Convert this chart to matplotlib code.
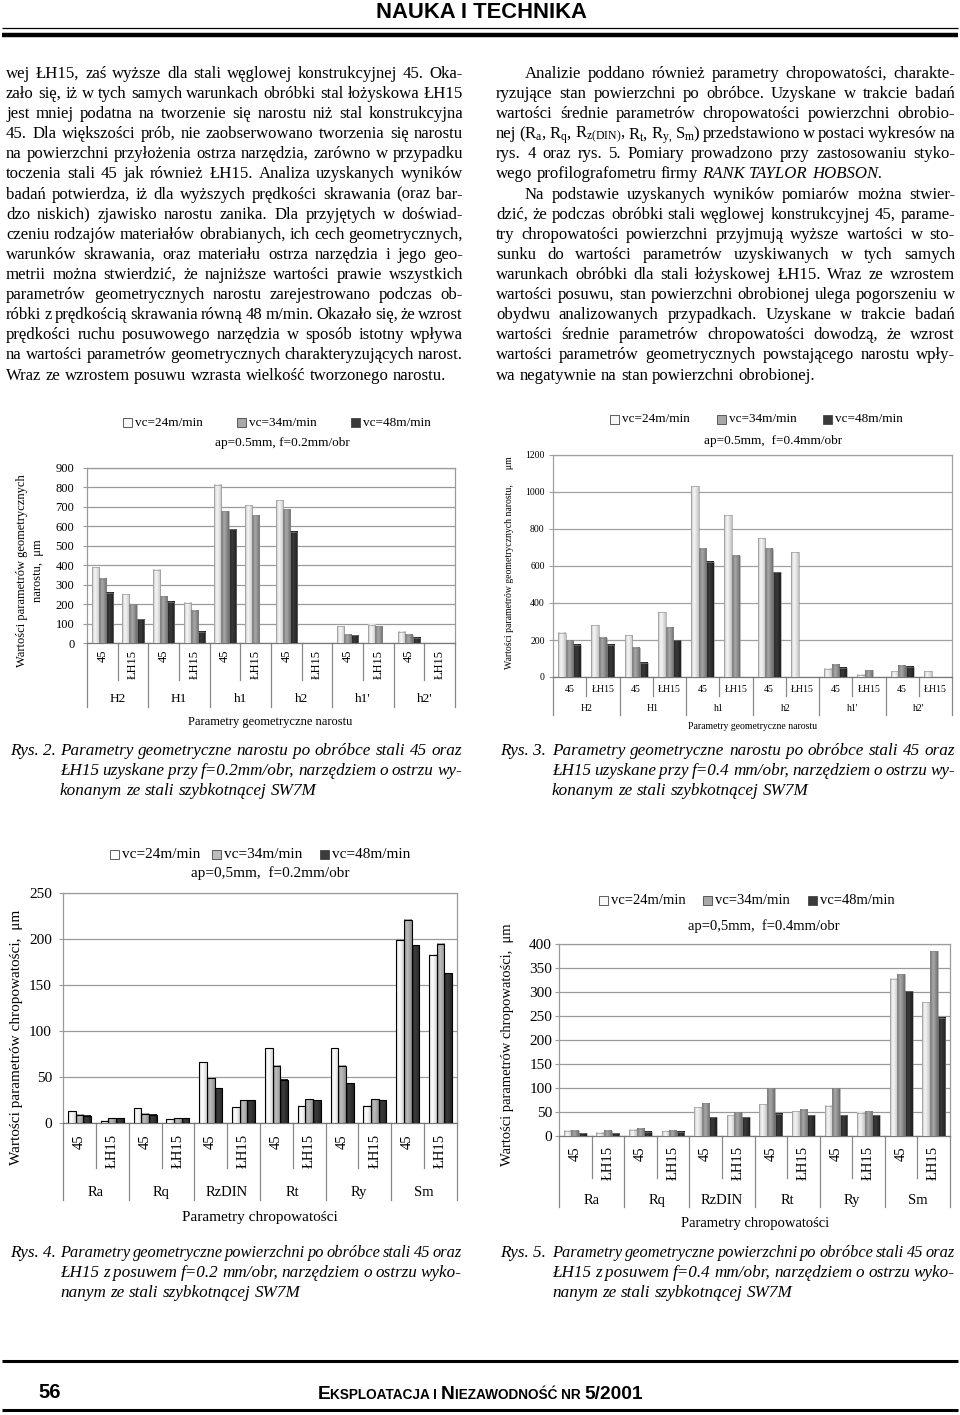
import numpy as np
import matplotlib
matplotlib.use('Agg')
import matplotlib.pyplot as plt
from matplotlib.patches import Rectangle
from matplotlib.lines import Line2D
from matplotlib.colors import to_rgb

# ---------------- data ----------------
series = ['vc=24m/min', 'vc=34m/min', 'vc=48m/min']
materials = ['45', 'ŁH15']
groups_geo = ['H2', 'H1', 'h1', 'h2', "h1'", "h2'"]
groups_rough = ['Ra', 'Rq', 'RzDIN', 'Rt', 'Ry', 'Sm']

# Rys. 2  (f=0.2 mm/obr) - geometric parameters of built-up edge, um
rys2_v24 = [389, 252, 377, 206, 813, 708, 734, 0, 86, 93, 57, 0]
rys2_v34 = [331, 200, 240, 166, 677, 658, 689, 0, 43, 86, 43, 0]
rys2_v48 = [259, 122, 213, 57, 585, 0, 573, 0, 39, 0, 27, 0]

# Rys. 3  (f=0.4 mm/obr)
rys3_v24 = [238, 281, 226, 350, 1030, 873, 751, 673, 45, 13, 31, 31]
rys3_v34 = [199, 211, 157, 269, 693, 655, 693, 0, 67, 36, 61, 0]
rys3_v48 = [175, 175, 76, 200, 622, 0, 567, 0, 49, 0, 56, 0]

# Rys. 4  (roughness, f=0.2 mm/obr)
rys4_v24 = [13, 2.5, 16, 4, 66, 17, 81.5, 19, 81.5, 19, 198.5, 183]
rys4_v34 = [9, 5, 10, 5, 49, 25, 62, 26, 62, 26, 221, 195]
rys4_v48 = [8, 5, 9, 5, 38, 25, 47, 25, 43, 25, 193, 163]

# Rys. 5  (roughness, f=0.4 mm/obr)
rys5_v24 = [11, 7, 13, 10, 60, 43, 66, 52, 63, 48, 328, 279]
rys5_v34 = [11, 11, 15, 11, 68, 50, 99, 55, 99, 52, 337, 385]
rys5_v48 = [6, 6, 9, 9, 39, 39, 46, 43, 43, 43, 302, 246]

left_lines = [
    "wej ŁH15, zaś wyższe dla stali węglowej konstrukcyjnej 45. Oka-",
    "zało się, iż w tych samych warunkach obróbki stal łożyskowa ŁH15",
    "jest mniej podatna na tworzenie się narostu niż stal konstrukcyjna",
    "45. Dla większości prób, nie zaobserwowano tworzenia się narostu",
    "na powierzchni przyłożenia ostrza narzędzia, zarówno w przypadku",
    "toczenia stali 45 jak również ŁH15. Analiza uzyskanych wyników",
    "badań potwierdza, iż dla wyższych prędkości skrawania (oraz bar-",
    "dzo niskich) zjawisko narostu zanika. Dla przyjętych w doświad-",
    "czeniu rodzajów materiałów obrabianych, ich cech geometrycznych,",
    "warunków skrawania, oraz materiału ostrza narzędzia i jego geo-",
    "metrii można stwierdzić, że najniższe wartości prawie wszystkich",
    "parametrów geometrycznych narostu zarejestrowano podczas ob-",
    "róbki z prędkością skrawania równą 48 m/min. Okazało się, że wzrost",
    "prędkości ruchu posuwowego narzędzia w sposób istotny wpływa",
    "na wartości parametrów geometrycznych charakteryzujących narost.",
    "Wraz ze wzrostem posuwu wzrasta wielkość tworzonego narostu.",
]
right_lines = [
    "Analizie poddano również parametry chropowatości, charakte-",
    "ryzujące stan powierzchni po obróbce. Uzyskane w trakcie badań",
    "wartości średnie parametrów chropowatości powierzchni obrobio-",
    "nej (R$_a$, R$_q$, R$_{z(DIN)}$, R$_t$, R$_{y,}$ S$_m$) przedstawiono w postaci wykresów na",
    "rys. 4 oraz rys. 5. Pomiary prowadzono przy zastosowaniu styko-",
    "wego profilografometru firmy §RANK §TAYLOR §HOBSON.",
    "Na podstawie uzyskanych wyników pomiarów można stwier-",
    "dzić, że podczas obróbki stali węglowej konstrukcyjnej 45, parame-",
    "try chropowatości powierzchni przyjmują wyższe wartości w sto-",
    "sunku do wartości parametrów uzyskiwanych w tych samych",
    "warunkach obróbki dla stali łożyskowej ŁH15. Wraz ze wzrostem",
    "wartości posuwu, stan powierzchni obrobionej ulega pogorszeniu w",
    "obydwu analizowanych przypadkach. Uzyskane w trakcie badań",
    "wartości średnie parametrów chropowatości dowodzą, że wzrost",
    "wartości parametrów geometrycznych powstającego narostu wpły-",
    "wa negatywnie na stan powierzchni obrobionej.",
]
cap2 = ["Parametry geometryczne narostu po obróbce stali 45 oraz",
        "ŁH15 uzyskane przy  f=0.2mm/obr, narzędziem o ostrzu wy-",
        "konanym ze stali szybkotnącej SW7M"]
cap3 = ["Parametry geometryczne narostu po obróbce stali 45 oraz",
        "ŁH15 uzyskane przy  f=0.4 mm/obr, narzędziem o ostrzu wy-",
        "konanym ze stali szybkotnącej SW7M"]
cap4 = ["Parametry geometryczne powierzchni po obróbce stali 45 oraz",
        "ŁH15 z posuwem  f=0.2 mm/obr, narzędziem o ostrzu wyko-",
        "nanym ze stali szybkotnącej SW7M"]
cap5 = ["Parametry geometryczne powierzchni po obróbce stali 45 oraz",
        "ŁH15 z posuwem  f=0.4 mm/obr, narzędziem o ostrzu wyko-",
        "nanym ze stali szybkotnącej SW7M"]

# ---------------- setup ----------------
W, H = 960, 1415
plt.rcParams['font.family'] = ['Liberation Serif', 'DejaVu Serif']
plt.rcParams['mathtext.fontset'] = 'custom'
plt.rcParams['mathtext.rm'] = 'Liberation Serif'
plt.rcParams['mathtext.it'] = 'Liberation Serif:italic'
plt.rcParams['mathtext.default'] = 'regular'

fig = plt.figure(figsize=(W / 100, H / 100), dpi=100)
fig.patch.set_facecolor('white')
renderer = fig.canvas.get_renderer()


def fx(x):
    return x / W


def fy(y):
    return 1 - y / H


def ftext(x, y, s, **kw):
    return fig.text(fx(x), fy(y), s, **kw)


def hline(x0, x1, y, lw, color='black'):
    fig.add_artist(Line2D([fx(x0), fx(x1)], [fy(y), fy(y)],
                          transform=fig.transFigure, lw=lw, color=color,
                          solid_capstyle='butt'))


def twidth(s, **kw):
    t = fig.text(0, 0, s, **kw)
    w = t.get_window_extent(renderer).width
    t.remove()
    return w


def justify(lines, x0, x1, y0, dy, size, style='normal', indent=0,
            indent_lines=(), last_lines=(), family=None):
    for i, line in enumerate(lines):
        y = y0 + i * dy
        start = x0 + (indent if i in indent_lines else 0)
        items = []
        for wd in line.split():
            st = style
            if wd.startswith('§'):
                wd = wd[1:]
                st = 'italic'
            items.append((wd, st))
        fs = size
        for _ in range(6):
            kw = dict(fontsize=fs)
            if family:
                kw['family'] = family
            space = twidth('a a', style=style, **kw) - twidth('aa', style=style, **kw)
            widths = [twidth(wd, style=st, **kw) for wd, st in items]
            if i in last_lines or len(items) < 2:
                gap = space
                break
            gap = (x1 - start - sum(widths)) / (len(items) - 1)
            if gap >= 0.55 * space:
                break
            fs *= 0.985
        x = start
        for (wd, st), w in zip(items, widths):
            ftext(x, y, wd, style=st, ha='left', va='baseline', **kw)
            x += w + gap


# ---------------- header / footer ----------------
ffam = ['Liberation Sans Narrow', 'Liberation Sans']
ftext(481, 13, 'NAUKA I TECHNIKA', family=ffam,
      fontweight='bold', fontsize=15.8, ha='center', va='center')
hline(2, 958, 28, 0.9)
hline(2, 958, 34.5, 3.2)

hline(2, 958, 1361, 2.2)
hline(2, 958, 1410, 2.2)
ftext(38, 1393, '56', family=ffam, fontweight='bold', fontsize=14.5,
      ha='left', va='center')
sc_parts = [('E', 13.8), ('KSPLOATACJA I ', 9.8), ('N', 13.8),
            ('IEZAWODNOŚĆ NR ', 9.8), ('5/2001', 13.8)]
tot = sum(twidth(s, fontsize=f, family=ffam, fontweight='bold') for s, f in sc_parts)
xx = 480 - tot / 2
for s, f in sc_parts:
    ftext(xx, 1399, s, fontsize=f, family=ffam, fontweight='bold', ha='left', va='baseline')
    xx += twidth(s, fontsize=f, family=ffam, fontweight='bold')

# ---------------- body text ----------------
LINE0, DY = 73, 20.1
justify(left_lines, 6, 463, LINE0 + 5, DY, 12.1, last_lines=(15,))
justify(right_lines, 496, 955, LINE0 + 5, DY, 12.1, indent=29,
        indent_lines=(0, 6), last_lines=(5, 15))

# ---------------- captions ----------------
for lab, lines, xr, xt, x1, yc in [('Rys. 2.', cap2, 10, 60, 462, 750),
                                   ('Rys. 3.', cap3, 500, 552, 955, 750),
                                   ('Rys. 4.', cap4, 10, 60, 462, 1252),
                                   ('Rys. 5.', cap5, 500, 552, 955, 1252)]:
    ftext(xr, yc + 5, lab, fontsize=12.3, style='italic', ha='left', va='baseline')
    justify(lines, xt, x1, yc + 5, 20, 12.3, style='italic', last_lines=(2,))


# ---------------- charts ----------------
def shade_bars(ax, xs, hs, width, edge_c, mid_c, outline, lw):
    t = np.linspace(0, 1, 48)
    peak = 0.4
    prof = np.where(t < peak, t / peak, (1 - t) / (1 - peak))
    prof = np.clip(prof, 0, 1) ** 0.8
    e = np.array(to_rgb(edge_c))
    m = np.array(to_rgb(mid_c))
    img = (e + (m - e) * prof[:, None])[None, :, :]
    bars = ax.bar(xs, hs, width=width, facecolor='none', edgecolor=outline,
                  linewidth=lw, zorder=3.1)
    for p in bars:
        x0, w, h = p.get_x(), p.get_width(), p.get_height()
        ax.imshow(img, extent=(x0, x0 + w, 0, h), aspect='auto',
                  interpolation='bilinear', zorder=3)
    return bars


def chart(cfg, groups, vals):
    l, t, r, b = cfg['box']
    ax = fig.add_axes([fx(l), fy(b), (r - l) / W, (b - t) / H])

    def af(y):
        return (b - y) / (b - t)

    n = len(groups) * len(materials)
    slots = np.arange(n) + 0.5
    bw = 0.233
    for j, v in enumerate(vals):
        v = np.asarray(v, float)
        mask = v > 0
        ec, mc = cfg['colors'][j]
        shade_bars(ax, slots[mask] + (j - 1) * bw, v[mask], bw, ec, mc,
                   cfg['outline'], cfg['outline_lw'])
    ax.set_xlim(0, n)
    ax.set_ylim(0, cfg['ymax'])
    ax.set_yticks(np.arange(0, cfg['ymax'] + 1, cfg['ystep']))
    ax.set_xticks([])
    ax.yaxis.grid(True, color=cfg['grid'], lw=0.9)
    ax.set_axisbelow(True)
    for s in ['left', 'right', 'top']:
        ax.spines[s].set_color(cfg['grid'])
        ax.spines[s].set_linewidth(0.9)
    ax.spines['bottom'].set_color('#777777')
    ax.spines['bottom'].set_linewidth(0.9)
    ax.tick_params(axis='y', length=3, color=cfg['grid'], pad=cfg['pad'],
                   labelsize=cfg['tick_fs'])
    tr = ax.get_xaxis_transform()
    for k in range(n + 1):
        yb = cfg['long_bot'] if k % 2 == 0 else cfg['short_bot']
        ax.plot([k, k], [0, af(yb)], transform=tr, clip_on=False,
                color='#888888', lw=0.9)
    for i in range(n):
        if cfg['sub_rot']:
            ax.text(slots[i], af(cfg['sub_y']), materials[i % 2], transform=tr,
                    rotation=90, ha='center', va='top', fontsize=cfg['sub_fs'])
        else:
            ax.text(slots[i], af(cfg['sub_y']), materials[i % 2], transform=tr,
                    ha='center', va='center', fontsize=cfg['sub_fs'])
    cap_off = 0.33 * cfg['grp_fs'] * 100 / 72
    for g, name in enumerate(groups):
        ax.text(2 * g + 1, af(cfg['grp_y'] + cap_off), name, transform=tr,
                ha='center', va='baseline', fontsize=cfg['grp_fs'])
    ftext(cfg['xlabel_xy'][0], cfg['xlabel_xy'][1], cfg['xlabel'],
          fontsize=cfg['xlabel_fs'], ha='center', va='center')
    ftext(cfg['ylabel_xy'][0], cfg['ylabel_xy'][1], cfg['ylabel'],
          fontsize=cfg['ylabel_fs'], ha='center', va='center', rotation=90,
          multialignment='center', linespacing=1.35)
    # legend
    ly = cfg['legend_y']
    for j, s in enumerate(series):
        lx = cfg['legend_xs'][j]
        ec, mc = cfg['colors'][j]
        fig.add_artist(Rectangle((fx(lx), fy(ly + 4.5)), 9 / W, 9 / H,
                                 transform=fig.transFigure, facecolor=mc,
                                 edgecolor='#444444', lw=0.6))
        ftext(lx + 12, ly, s, fontsize=cfg['legend_fs'], ha='left', va='center')
    ftext(cfg['cond_xy'][0], cfg['cond_xy'][1], cfg['cond'],
          fontsize=cfg['legend_fs'], ha='center', va='center')
    return ax


light = ('#bdbdbd', '#f7f7f7')
mid = ('#6a6a6a', '#a8a8a8')
dark = ('#1c1c1c', '#3a3a3a')

cfg2 = dict(box=(87, 468, 455, 643), ymax=900, ystep=100, tick_fs=9, pad=6,
            grid='#9a9a9a', colors=[light, mid, dark], outline='#888888', outline_lw=0.4,
            sub_rot=True, sub_y=650, sub_fs=9, short_bot=680, long_bot=707,
            grp_y=698, grp_fs=9.5, xlabel='Parametry geometryczne narostu',
            xlabel_xy=(270, 722), xlabel_fs=9,
            ylabel='Wartości parametrów geometrycznych\nnarostu,  μm',
            ylabel_xy=(30, 571), ylabel_fs=9,
            legend_y=423, legend_xs=(123, 237, 351), legend_fs=9.5,
            cond='ap=0.5mm, f=0.2mm/obr', cond_xy=(282, 443))
cfg3 = dict(box=(553, 455, 952, 677), ymax=1200, ystep=200, tick_fs=7, pad=3,
            grid='#a0a0a0', colors=[light, mid, dark], outline='#888888', outline_lw=0.4,
            sub_rot=False, sub_y=689, sub_fs=7, short_bot=696, long_bot=715,
            grp_y=708, grp_fs=7, xlabel='Parametry geometryczne narostu',
            xlabel_xy=(753, 726), xlabel_fs=7,
            ylabel='Wartości parametrów geometrycznych narostu,      μm',
            ylabel_xy=(510, 563), ylabel_fs=7,
            legend_y=419, legend_xs=(610, 717, 823), legend_fs=9.5,
            cond='ap=0.5mm,  f=0.4mm/obr', cond_xy=(773, 441))
cfg4 = dict(box=(63, 893, 457, 1123), ymax=250, ystep=50, tick_fs=11, pad=5,
            grid='#9a9a9a', colors=[('#d0d0d0', '#ffffff'), ('#8c8c8c', '#bdbdbd'), ('#202020', '#3c3c3c')],
            outline='#000000', outline_lw=0.8,
            sub_rot=True, sub_y=1134, sub_fs=10.5, short_bot=1168, long_bot=1200,
            grp_y=1191, grp_fs=10.5, xlabel='Parametry chropowatości',
            xlabel_xy=(260, 1218), xlabel_fs=11,
            ylabel='Wartości parametrów chropowatości,  μm',
            ylabel_xy=(17, 1037), ylabel_fs=11,
            legend_y=854, legend_xs=(110, 212, 320), legend_fs=11,
            cond='ap=0,5mm,  f=0.2mm/obr', cond_xy=(270, 873))
cfg5 = dict(box=(559, 944, 950, 1136), ymax=400, ystep=50, tick_fs=11, pad=2,
            grid='#9a9a9a', colors=[light, mid, dark], outline='#888888', outline_lw=0.4,
            sub_rot=True, sub_y=1146, sub_fs=10.5, short_bot=1178, long_bot=1207,
            grp_y=1199, grp_fs=10.5, xlabel='Parametry chropowatości',
            xlabel_xy=(755, 1224), xlabel_fs=10.5,
            ylabel='Wartości parametrów chropowatości,  μm',
            ylabel_xy=(508, 1045), ylabel_fs=10.5,
            legend_y=900, legend_xs=(599, 703, 808), legend_fs=10.5,
            cond='ap=0,5mm,  f=0.4mm/obr', cond_xy=(764, 926))

chart(cfg2, groups_geo, [rys2_v24, rys2_v34, rys2_v48])
chart(cfg3, groups_geo, [rys3_v24, rys3_v34, rys3_v48])
chart(cfg4, groups_rough, [rys4_v24, rys4_v34, rys4_v48])
chart(cfg5, groups_rough, [rys5_v24, rys5_v34, rys5_v48])

fig.savefig('out.png', dpi=100, facecolor='white')
